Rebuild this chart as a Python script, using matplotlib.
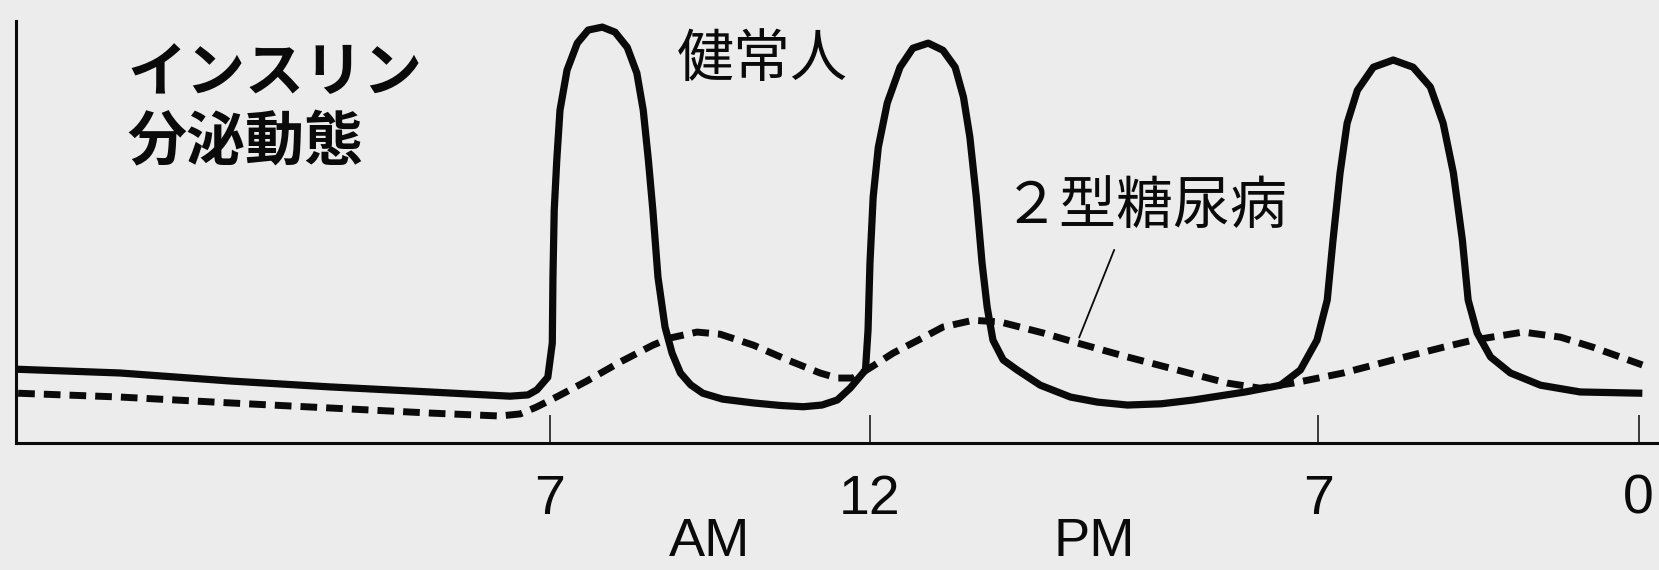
import matplotlib
matplotlib.use("Agg")
import matplotlib.pyplot as plt
import matplotlib.transforms as mtransforms

plt.rcParams['font.family'] = ['Noto Sans CJK JP', 'DejaVu Sans']

# time of day in hours (-1.3 = about 23:00 the night before, 24 = midnight)
healthy_t = [-1.34, 0.29, 2.01, 3.57, 5.13, 6.38, 6.66, 6.80, 6.97, 7.04,
             7.05, 7.07, 7.11, 7.16, 7.27, 7.43, 7.60, 7.82, 8.02, 8.21,
             8.36, 8.46, 8.54, 8.61, 8.69, 8.80, 8.91, 9.04, 9.20, 9.39,
             9.70, 10.18, 10.60, 10.96, 11.25, 11.49, 11.69, 11.93, 11.97,
             12.00, 12.05, 12.13, 12.27, 12.47, 12.67, 12.91, 13.14, 13.33,
             13.46, 13.56, 13.66, 13.75, 13.83, 13.92, 14.08, 14.30, 14.66,
             15.13, 15.55, 16.02, 16.55, 17.05, 17.86, 18.41, 18.72, 18.98,
             19.14, 19.23, 19.34, 19.45, 19.61, 19.86, 20.17, 20.48, 20.75,
             20.95, 21.11, 21.25, 21.34, 21.48, 21.69, 22.00, 22.47, 23.09,
             24.06]
healthy_v = [17.5, 16.6, 14.7, 13.3, 12.1, 11.1, 11.4, 12.6, 15.6, 23.7,
             39.3, 55.2, 67.1, 78.9, 88.4, 94.8, 97.9, 98.6, 97.4, 93.8,
             87.7, 78.9, 67.1, 55.2, 39.3, 27.5, 21.3, 16.6, 13.8, 11.8,
             10.4, 9.5, 8.9, 8.6, 9.0, 10.2, 13.0, 17.3, 26.8,
             42.7, 58.3, 70.1, 80.6, 89.1, 93.6, 94.8, 93.1, 89.1,
             82.0, 72.5, 58.3, 42.7, 32.2, 24.4, 19.7, 17.3, 13.7,
             10.9, 9.7, 9.0, 9.3, 10.2, 12.1, 13.7, 17.3, 24.4,
             33.9, 48.1, 64.0, 75.8, 83.6, 89.1, 90.8, 89.1, 84.4,
             75.8, 64.0, 48.1, 33.9, 26.1, 20.4, 16.6, 13.7, 12.1,
             11.8]

dm2_t = [-1.30, 0.29, 2.01, 3.57, 5.13, 6.22, 6.54, 6.79, 7.13, 7.58, 8.10,
         8.61, 8.88, 9.30, 9.66, 10.18, 10.71, 11.22, 11.49, 11.74, 12.00,
         12.36, 12.78, 13.14, 13.61, 14.03, 14.70, 15.24, 16.02, 16.80,
         17.58, 18.09, 18.61, 19.39, 20.17, 20.95, 21.42, 22.20, 22.78,
         23.29, 24.06]
dm2_v = [11.8, 10.9, 9.5, 8.3, 7.1, 6.4, 6.9, 8.5, 11.1, 14.7, 19.2,
         23.2, 24.9, 26.3, 25.8, 23.2, 19.7, 16.6, 15.4, 15.4, 17.8,
         21.3, 24.6, 27.5, 29.1, 28.7, 26.1, 23.7, 20.4, 17.3,
         14.2, 13.0, 14.2, 16.6, 19.7, 22.7, 24.4, 26.3, 25.1,
         22.7, 18.5]

tick_hours = [7, 12, 19, 24]
tick_labels = ['7', '12', '7', '0']
period_hours = [9.5, 15.5]
period_labels = ['AM', 'PM']

fig = plt.figure(figsize=(16.59, 5.70), dpi=100)
bg = '#ececec'
ink = '#0a0a0a'
fig.patch.set_facecolor(bg)
ax = fig.add_axes([0.0096, 0.2228, 0.9904, 0.740])
ax.set_facecolor(bg)

ax.plot(healthy_t, healthy_v, color=ink, lw=5.2,
        solid_joinstyle='round', solid_capstyle='butt')
ax.plot(dm2_t, dm2_v, color=ink, lw=5.0, dashes=(2.4, 1.3),
        dash_capstyle='butt', dash_joinstyle='round')

ax.set_xlim(-1.335, 24.32)
ax.set_ylim(0, 100)

for s in ['top', 'right']:
    ax.spines[s].set_visible(False)
for s in ['left', 'bottom']:
    ax.spines[s].set_linewidth(2.2)
    ax.spines[s].set_color(ink)

ax.set_yticks([])
ax.set_xticks(tick_hours)
ax.set_xticklabels(tick_labels, fontfamily='Liberation Sans')
ax.tick_params(axis='x', direction='in', length=20, width=1.1,
               colors=ink, labelsize=40, pad=22)

trans = mtransforms.blended_transform_factory(ax.transData, ax.transAxes)
for h, lab in zip(period_hours, period_labels):
    ax.text(h, -0.235, lab, transform=trans, ha='center', va='center',
            fontsize=39, fontfamily='Liberation Sans', color=ink)

ax.text(0.40, 87.4, 'インスリン', fontsize=42.5, fontweight='bold',
        ha='left', va='center', color=ink)
ax.text(0.40, 71.1, '分泌動態', fontsize=42.5, fontweight='bold',
        ha='left', va='center', color=ink)
ax.text(8.99, 90.8, '健常人', fontsize=41, fontweight='normal',
        ha='left', va='center', color=ink)
ax.text(14.08, 55.9, '２型糖尿病', fontsize=41, fontweight='normal',
        ha='left', va='center', color=ink)
ax.annotate('', xy=(15.25, 24.4), xytext=(15.83, 46.4),
            arrowprops=dict(arrowstyle='-', color=ink, lw=1.3))

fig.savefig('out.png', dpi=100, facecolor=bg)
